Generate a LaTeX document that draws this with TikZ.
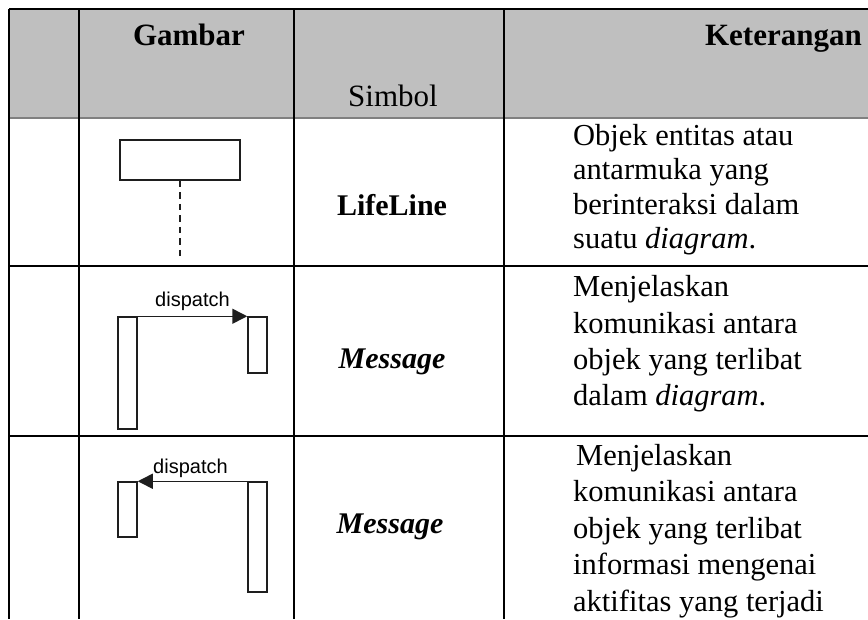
\documentclass[tikz,border=0pt]{standalone}
\usepackage{fontspec}
\setmainfont{Liberation Serif}
\newfontfamily\labelfont{Liberation Sans}
\usetikzlibrary{arrows.meta}
\definecolor{headfill}{RGB}{191,191,191}
\definecolor{headrule}{RGB}{128,128,128}
\definecolor{ink}{RGB}{30,30,30}
\tikzset{
  grid/.style={line width=2.6pt, black},
  cell/.style={inner sep=0pt, anchor=base west, font=\fontsize{30.5}{36}\selectfont},
  head/.style={inner sep=0pt, anchor=base, font=\fontsize{31}{36}\selectfont\bfseries},
  sym/.style={inner sep=0pt, anchor=base, font=\fontsize{30}{36}\selectfont\bfseries},
  objbox/.style={draw=ink, line width=1.7pt, fill=white, minimum width=120pt, minimum height=40pt, inner sep=0pt},
  actbox/.style={draw=ink, line width=1.5pt, fill=white, minimum width=19pt, inner sep=0pt},
  msg/.style={line width=1.5pt, ink, -{Triangle[length=15pt,width=15pt]}},
  msglabel/.style={inner sep=0pt, anchor=base west, font=\labelfont\fontsize{20}{24}\selectfont}
}
\begin{document}
\begin{tikzpicture}[x=1pt, y=-1pt]
\useasboundingbox (0,0) rectangle (868,619);

% header band
\fill[headfill] (9,9) rectangle (868,118);
\draw[headrule, line width=2.6pt] (9,118) -- (868,118);

% table rules
\draw[grid] (9,9) -- (868,9);
\draw[grid] (9,9) -- (9,619);
\draw[grid] (79,9) -- (79,619);
\draw[grid] (294,9) -- (294,619);
\draw[grid] (504,9) -- (504,619);
\draw[grid] (9,266) -- (868,266);
\draw[grid] (9,436) -- (868,436);

% header texts
\node[head] (hgambar) at (189,45) {Gambar};
\node[inner sep=0pt, anchor=base, font=\fontsize{31}{36}\selectfont] (hsimbol) at (393,106) {Simbol};
\node[head, anchor=base east] (hket) at (862,45) {Keterangan};

% row 1: lifeline
\node[objbox] (life) at (180,160) {};
\coordinate (lifeend) at (180,258);
\draw[ink, line width=2.6pt, dash pattern=on 6.5pt off 5pt] (life.south) -- (lifeend);
\node[sym] (s1) at (392,215) {LifeLine};
\node[cell] (k1a) at (573,145) {Objek entitas atau};
\node[cell] (k1b) at (573,179.5) {antarmuka yang};
\node[cell] (k1c) at (573,214) {berinteraksi dalam};
\node[cell] (k1d) at (573,248.5) {suatu \textit{diagram}.};

% row 2: message to the right
\node[actbox, minimum height=112pt] (a2) at (127.5,373) {};
\node[actbox, minimum height=56pt] (b2) at (257.5,345) {};
\draw[msg] (a2.north east) -- (b2.north west);
\node[msglabel] (m2) at (155,306) {dispatch};
\node[sym, font=\fontsize{30}{36}\selectfont\bfseries\itshape] (s2) at (392,368) {Message};
\node[cell] (k2a) at (573,296) {Menjelaskan};
\node[cell] (k2b) at (573,333) {komunikasi antara};
\node[cell] (k2c) at (573,369.5) {objek yang terlibat};
\node[cell] (k2d) at (573,405) {dalam \textit{diagram}.};

% row 3: message to the left
\node[actbox, minimum height=55pt] (a3) at (127.5,509.5) {};
\node[actbox, minimum height=110pt] (b3) at (257.5,537) {};
\draw[msg] (b3.north west) -- (a3.north east);
\node[msglabel] (m3) at (153,473) {dispatch};
\node[sym, font=\fontsize{30}{36}\selectfont\bfseries\itshape] (s3) at (390,533) {Message};
\node[cell] (k3a) at (576,465) {Menjelaskan};
\node[cell] (k3b) at (573,501.5) {komunikasi antara};
\node[cell] (k3c) at (573,538) {objek yang terlibat};
\node[cell] (k3d) at (573,574.5) {informasi mengenai};
\node[cell] (k3e) at (573,611) {aktifitas yang terjadi};
\end{tikzpicture}
\end{document}
